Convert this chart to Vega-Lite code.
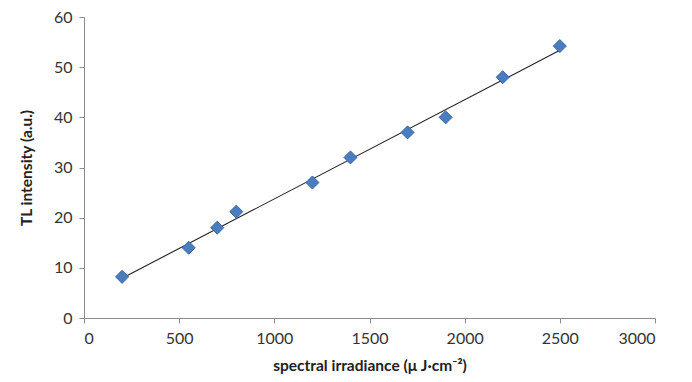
{
  "$schema": "https://vega.github.io/schema/vega-lite/v6.json",
  "autosize": {"type": "none"},
  "padding": {"left": 84, "top": 17, "right": 37, "bottom": 64},
  "width": 571,
  "height": 301,
  "background": "white",
  "config": {
    "view": {"stroke": null},
    "font": "Lato",
    "axis": {
      "grid": false,
      "domainColor": "#8c8c8c",
      "tickColor": "#8c8c8c",
      "tickSize": 5,
      "labelFont": "Lato",
      "labelFontSize": 16,
      "labelColor": "#333333",
      "titleFont": "Lato",
      "titleFontSize": 15.5,
      "titleFontWeight": "bold",
      "titleColor": "#222222"
    }
  },
  "data": {
    "values": [
      {"irradiance": 200, "intensity": 8.2},
      {"irradiance": 550, "intensity": 14.0},
      {"irradiance": 700, "intensity": 18.0},
      {"irradiance": 800, "intensity": 21.2},
      {"irradiance": 1200, "intensity": 27.0},
      {"irradiance": 1400, "intensity": 32.0},
      {"irradiance": 1700, "intensity": 37.0},
      {"irradiance": 1900, "intensity": 40.0},
      {"irradiance": 2200, "intensity": 48.0},
      {"irradiance": 2500, "intensity": 54.2}
    ]
  },
  "layer": [
    {
      "transform": [{"regression": "intensity", "on": "irradiance"}],
      "mark": {"type": "line", "color": "#222222", "strokeWidth": 1.1},
      "encoding": {
        "x": {"field": "irradiance", "type": "quantitative"},
        "y": {"field": "intensity", "type": "quantitative"}
      }
    },
    {
      "mark": {"type": "point", "shape": "diamond", "filled": true, "size": 170, "color": "#4a7dbf", "stroke": "#3a67a3", "strokeWidth": 1, "opacity": 1},
      "encoding": {
        "x": {
          "field": "irradiance", "type": "quantitative",
          "scale": {"domain": [0, 3000], "nice": false, "zero": true},
          "axis": {"values": [0, 500, 1000, 1500, 2000, 2500, 3000], "title": "spectral irradiance (μ J·cm⁻²)", "labelPadding": 7, "titlePadding": 12, "format": "d"}
        },
        "y": {
          "field": "intensity", "type": "quantitative",
          "scale": {"domain": [0, 60], "nice": false},
          "axis": {"values": [0, 10, 20, 30, 40, 50, 60], "title": "TL intensity (a.u.)", "labelPadding": 7, "titlePadding": 19}
        }
      }
    }
  ]
}
